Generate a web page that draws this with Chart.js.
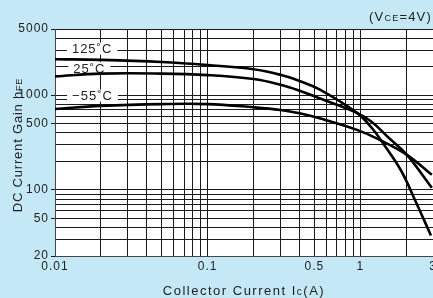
<!DOCTYPE html>
<html lang="en">
<head>
<meta charset="UTF-8">
<title>DC Current Gain vs Collector Current</title>
<script src="https://cdn.jsdelivr.net/npm/chart.js"></script>
<style>
  html, body { margin: 0; padding: 0; overflow: hidden; background: #c5e8f7; }
  #wrap { width: 440px; height: 298px; }
</style>
</head>
<body>
<div id="wrap"><canvas id="hfeChart" width="440" height="298"></canvas></div>
<script>
// hFE curves (VCE = 4V)
const ic125  = [0.01, 0.02, 0.05, 0.1, 0.2, 0.3, 0.4, 0.54, 0.95, 1.19, 1.39, 1.84, 2.28, 2.9];
const hfe125 = [2400, 2360, 2240, 2080, 1880, 1640, 1410, 1150, 650, 450, 320, 162, 78, 33];

const ic25  = [0.01, 0.02, 0.05, 0.1, 0.2, 0.3, 0.4, 0.54, 0.95, 1.19, 1.54, 2.02, 2.94];
const hfe25 = [1580, 1690, 1690, 1630, 1480, 1290, 1115, 927, 650, 520, 353, 234, 105];

const icM55  = [0.01, 0.02, 0.05, 0.1, 0.2, 0.3, 0.4, 0.54, 0.95, 1.3, 2.02, 2.94];
const hfeM55 = [714, 770, 805, 805, 745, 698, 644, 570, 430, 345, 234, 144];

const tempNames = ['125˚C', '25˚C', '−55˚C'];

// grid lines and labelled ticks
const xGrid = [0.01, 0.02, 0.03, 0.04, 0.05, 0.06, 0.07, 0.08, 0.09,
               0.1, 0.2, 0.3, 0.4, 0.5, 0.6, 0.7, 0.8, 0.9, 1, 2, 3];
const xLabels = [0.01, 0.1, 0.5, 1, 3];
const yGrid = [20, 30, 40, 50, 60, 70, 80, 90, 100, 200, 300, 400, 500,
               600, 700, 800, 900, 1000, 2000, 3000, 4000, 5000];
const yLabels = [20, 50, 100, 500, 1000, 5000];

const FONT = "'Liberation Sans', Arial, sans-serif";
const BG = '#c5e8f7';
const GRID = '#1a1a1a';

Chart.defaults.font.family = FONT;

function pts(xs, ys) {
  return xs.map((x, i) => ({ x: x, y: ys[i] }));
}

// draw text made of runs with different sizes (for subscripts like hFE)
function drawRuns(ctx, runs, x, y, align, spacing) {
  ctx.letterSpacing = spacing + 'px';
  let total = 0;
  runs.forEach(r => { ctx.font = r[1] + 'px ' + FONT; total += ctx.measureText(r[0]).width; });
  let cx = align === 'right' ? x - total : (align === 'center' ? x - total / 2 : x);
  runs.forEach(r => {
    ctx.font = r[1] + 'px ' + FONT;
    ctx.fillText(r[0], cx, y);
    cx += ctx.measureText(r[0]).width;
  });
}

const extras = {
  id: 'extras',
  beforeLayout(chart) {
    chart.ctx.letterSpacing = '1px';
  },
  beforeDraw(chart) {
    const ctx = chart.ctx, a = chart.chartArea;
    ctx.save();
    ctx.fillStyle = BG;
    ctx.fillRect(0, 0, chart.width, chart.height);
    ctx.fillStyle = '#fff';
    ctx.fillRect(a.left, a.top, a.right - a.left, a.bottom - a.top);
    ctx.restore();
    ctx.letterSpacing = '1px';
  },
  beforeDatasetsDraw(chart) {
    // temperature tags sit on white boxes that cut the grid
    const ctx = chart.ctx, xs = chart.scales.x, ys = chart.scales.y;
    const spots = [[0.0175, 3100], [0.0168, 1940], [0.0176, 990]];
    ctx.save();
    ctx.font = '13px ' + FONT;
    ctx.letterSpacing = '1px';
    ctx.textAlign = 'center';
    ctx.textBaseline = 'middle';
    tempNames.forEach((t, i) => {
      const px = xs.getPixelForValue(spots[i][0]);
      const py = ys.getPixelForValue(spots[i][1]);
      const w = ctx.measureText(t).width;
      ctx.fillStyle = '#fff';
      ctx.fillRect(px - w / 2 - 5, py - 6, w + 10, 12);
      ctx.fillStyle = '#222';
      ctx.fillText(t, px, py + 1);
    });
    ctx.restore();
  },
  afterDraw(chart) {
    const ctx = chart.ctx;
    ctx.save();
    ctx.fillStyle = '#222';
    ctx.textBaseline = 'alphabetic';
    drawRuns(ctx, [['(V', 13], ['CE', 9], ['=4V)', 13]], 432, 21, 'right', 1.2);
    drawRuns(ctx, [['Collector Current I', 13], ['c', 10], ['(A)', 13]], 244, 295, 'center', 1.5);
    ctx.translate(22, 145);
    ctx.rotate(-Math.PI / 2);
    drawRuns(ctx, [['DC Current Gain h', 13], ['FE', 9]], 0, 0, 'center', 0.8);
    ctx.restore();
  }
};

const lineStyle = { borderColor: '#000', borderWidth: 2.6, pointRadius: 0, fill: false, tension: 0.4 };

new Chart(document.getElementById('hfeChart'), {
  type: 'line',
  data: {
    datasets: [
      Object.assign({ label: tempNames[0], data: pts(ic125, hfe125) }, lineStyle),
      Object.assign({ label: tempNames[1], data: pts(ic25, hfe25) }, lineStyle),
      Object.assign({ label: tempNames[2], data: pts(icM55, hfeM55) }, lineStyle)
    ]
  },
  options: {
    responsive: false,
    animation: false,
    devicePixelRatio: 1,
    layout: { padding: { top: 29, right: 5.7, left: 0, bottom: 0 } },
    plugins: { legend: { display: false }, tooltip: { enabled: false } },
    scales: {
      x: {
        type: 'logarithmic', min: 0.01, max: 3,
        afterBuildTicks: s => { s.ticks = xGrid.map(v => ({ value: v })); },
        afterFit: s => { s.height = 42; },
        ticks: {
          autoSkip: false, maxRotation: 0, padding: 3, color: '#222',
          font: { size: 12 },
          callback: v => xLabels.includes(v) ? String(v) : ''
        },
        grid: { color: GRID, lineWidth: 1, drawTicks: false },
        border: { color: '#444' }
      },
      y: {
        type: 'logarithmic', min: 20, max: 5000,
        afterBuildTicks: s => { s.ticks = yGrid.map(v => ({ value: v })); },
        afterFit: s => { s.width = 55; },
        ticks: {
          autoSkip: false, padding: 2, color: '#222',
          font: { size: 12 },
          callback: v => yLabels.includes(v) ? String(v) : ''
        },
        grid: {
          color: GRID, lineWidth: 1, tickLength: 4,
          tickColor: c => yLabels.includes(c.tick.value) ? GRID : 'rgba(0,0,0,0)'
        },
        border: { color: '#444' }
      }
    }
  },
  plugins: [extras]
});
</script>
</body>
</html>
